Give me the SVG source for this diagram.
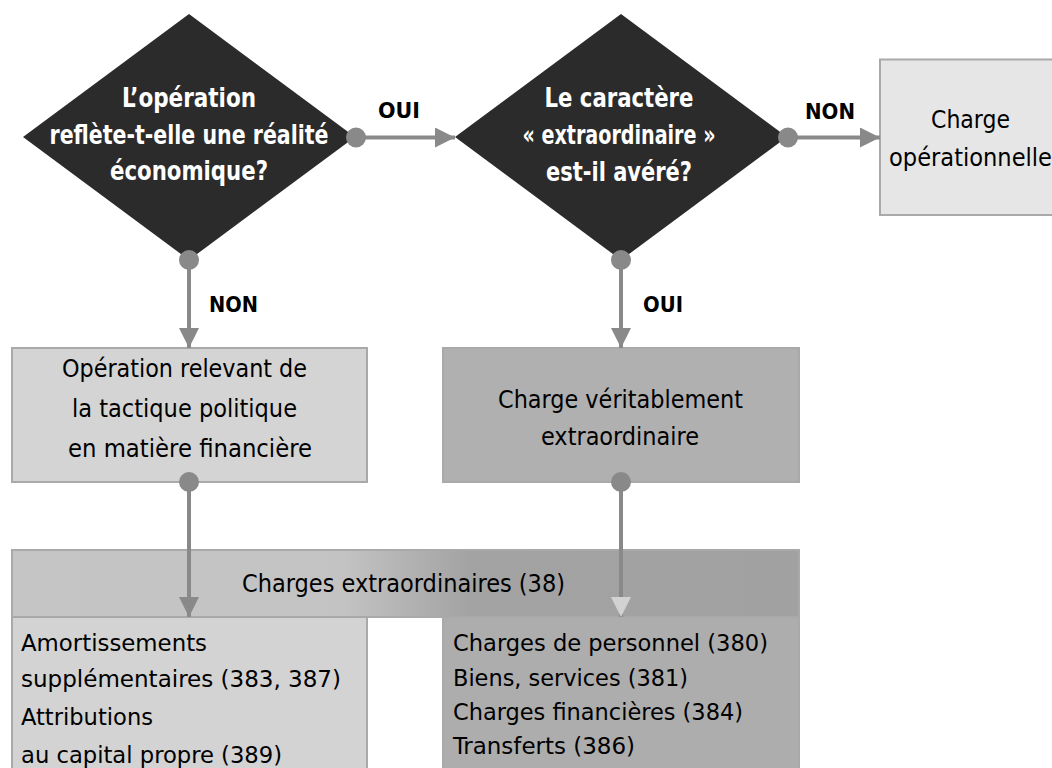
<svg xmlns="http://www.w3.org/2000/svg" width="1052" height="768" viewBox="0 0 1052 768">
  <defs>
    <linearGradient id="barFill" gradientUnits="userSpaceOnUse" x1="12" y1="0" x2="799" y2="0">
      <stop offset="0" stop-color="#c5c5c5"/>
      <stop offset="0.42" stop-color="#c3c3c3"/>
      <stop offset="0.58" stop-color="#a3a3a3"/>
      <stop offset="1" stop-color="#a1a1a1"/>
    </linearGradient>
    <marker id="head" viewBox="0 0 20 20" refX="20" refY="10" markerWidth="20" markerHeight="20" markerUnits="userSpaceOnUse" orient="auto">
      <path d="M0,0 L20,10 L0,20 Z" fill="#898989"/>
    </marker>
    <marker id="headLight" viewBox="0 0 20 20" refX="20" refY="10" markerWidth="20" markerHeight="20" markerUnits="userSpaceOnUse" orient="auto">
      <path d="M0,0 L20,10 L0,20 Z" fill="#d2d2d2"/>
    </marker>
  </defs>
  <style>
    text { font-family: "Liberation Sans Narrow", "DejaVu Sans Condensed", "Roboto Condensed", "Liberation Sans", sans-serif; }
    .q { fill: #ffffff; font-weight: bold; font-size: 27px; text-anchor: middle; }
    .t { fill: #000000; font-size: 24px; }
    .c { text-anchor: middle; }
    .lbl { fill: #000000; font-weight: bold; font-size: 22px; }
    .li { fill: #000000; font-size: 23px; }
    .diamond { fill: #2b2b2b; }
    .link { stroke: #898989; stroke-width: 4; fill: none; }
    .dot { fill: #898989; }
    .box { stroke: #a9a9a9; stroke-width: 2; }
  </style>

  <!-- question 1 -->
  <g id="q-realite">
    <polygon class="diamond" points="189,14 355,137 189,260 23,137"/>
    <text class="q" x="189" y="107" textLength="134" lengthAdjust="spacingAndGlyphs">L’opération</text>
    <text class="q" x="189" y="144" textLength="279" lengthAdjust="spacingAndGlyphs">reflète-t-elle une réalité</text>
    <text class="q" x="189" y="180" textLength="158" lengthAdjust="spacingAndGlyphs">économique?</text>
  </g>

  <!-- question 2 -->
  <g id="q-extraordinaire">
    <polygon class="diamond" points="621,14 787,137 621,260 455,137"/>
    <text class="q" x="619" y="107" textLength="149" lengthAdjust="spacingAndGlyphs">Le caractère</text>
    <text class="q" x="619" y="144" textLength="193" lengthAdjust="spacingAndGlyphs">« extraordinaire »</text>
    <text class="q" x="619" y="181" textLength="146" lengthAdjust="spacingAndGlyphs">est-il avéré?</text>
  </g>

  <!-- outcome: operating charge -->
  <g id="charge-operationnelle">
    <rect class="box" x="880" y="59.5" width="190" height="155.5" fill="#e6e6e6"/>
    <text class="t c" x="970.5" y="128" textLength="79" lengthAdjust="spacingAndGlyphs">Charge</text>
    <text class="t c" x="970.5" y="166" textLength="163" lengthAdjust="spacingAndGlyphs">opérationnelle</text>
  </g>

  <!-- outcome: financial policy tactic -->
  <g id="tactique-politique">
    <rect class="box" x="12" y="348" width="355" height="134" fill="#d4d4d4"/>
    <text class="t" x="62" y="377" textLength="245" lengthAdjust="spacingAndGlyphs">Opération relevant de</text>
    <text class="t" x="72" y="417" textLength="225" lengthAdjust="spacingAndGlyphs">la tactique politique</text>
    <text class="t" x="68" y="457" textLength="244" lengthAdjust="spacingAndGlyphs">en matière financière</text>
  </g>

  <!-- outcome: truly extraordinary charge -->
  <g id="charge-veritable">
    <rect class="box" x="443" y="348" width="356" height="134" fill="#b0b0b0"/>
    <text class="t" x="498" y="408" textLength="245" lengthAdjust="spacingAndGlyphs">Charge véritablement</text>
    <text class="t" x="541" y="445" textLength="158" lengthAdjust="spacingAndGlyphs">extraordinaire</text>
  </g>

  <!-- account group 38 -->
  <g id="charges-38">
    <rect class="box" x="12" y="550" width="787" height="67" fill="url(#barFill)"/>
    <text class="t" x="242" y="592" textLength="323" lengthAdjust="spacingAndGlyphs">Charges extraordinaires (38)</text>
  </g>

  <g id="comptes-gauche">
    <rect class="box" x="12" y="617" width="355" height="160" fill="#d3d3d3"/>
    <text class="li" x="21" y="651" textLength="186" lengthAdjust="spacingAndGlyphs">Amortissements</text>
    <text class="li" x="21" y="687" textLength="320" lengthAdjust="spacingAndGlyphs">supplémentaires (383, 387)</text>
    <text class="li" x="21" y="725" textLength="132" lengthAdjust="spacingAndGlyphs">Attributions</text>
    <text class="li" x="21" y="763" textLength="261" lengthAdjust="spacingAndGlyphs">au capital propre (389)</text>
  </g>

  <g id="comptes-droite">
    <rect class="box" x="443" y="617" width="356" height="160" fill="#adadad"/>
    <text class="li" x="453" y="651" textLength="315" lengthAdjust="spacingAndGlyphs">Charges de personnel (380)</text>
    <text class="li" x="453" y="686" textLength="235" lengthAdjust="spacingAndGlyphs">Biens, services (381)</text>
    <text class="li" x="453" y="720" textLength="290" lengthAdjust="spacingAndGlyphs">Charges financières (384)</text>
    <text class="li" x="453" y="754" textLength="182" lengthAdjust="spacingAndGlyphs">Transferts (386)</text>
  </g>

  <!-- connectors -->
  <g id="connectors">
    <line class="link" x1="356" y1="137.5" x2="455" y2="137.5" marker-end="url(#head)"/>
    <circle class="dot" cx="356" cy="137.5" r="10"/>
    <line class="link" x1="788" y1="137.5" x2="880" y2="137.5" marker-end="url(#head)"/>
    <circle class="dot" cx="788" cy="137.5" r="10"/>
    <line class="link" x1="189" y1="260" x2="189" y2="348" marker-end="url(#head)"/>
    <circle class="dot" cx="189" cy="260" r="10"/>
    <line class="link" x1="621" y1="260" x2="621" y2="348" marker-end="url(#head)"/>
    <circle class="dot" cx="621" cy="260" r="10"/>
    <line class="link" x1="189" y1="482" x2="189" y2="617" marker-end="url(#head)"/>
    <circle class="dot" cx="189" cy="482" r="10"/>
    <line class="link" x1="621" y1="482" x2="621" y2="551"/>
    <line class="link" x1="621" y1="551" x2="621" y2="617" stroke="#d2d2d2" marker-end="url(#headLight)"/>
    <circle class="dot" cx="621" cy="482" r="10"/>
    <text class="lbl" x="378" y="118" textLength="42" lengthAdjust="spacingAndGlyphs">OUI</text>
    <text class="lbl" x="805" y="119" textLength="50" lengthAdjust="spacingAndGlyphs">NON</text>
    <text class="lbl" x="209" y="312" textLength="49" lengthAdjust="spacingAndGlyphs">NON</text>
    <text class="lbl" x="643" y="312" textLength="40" lengthAdjust="spacingAndGlyphs">OUI</text>
  </g>
</svg>
